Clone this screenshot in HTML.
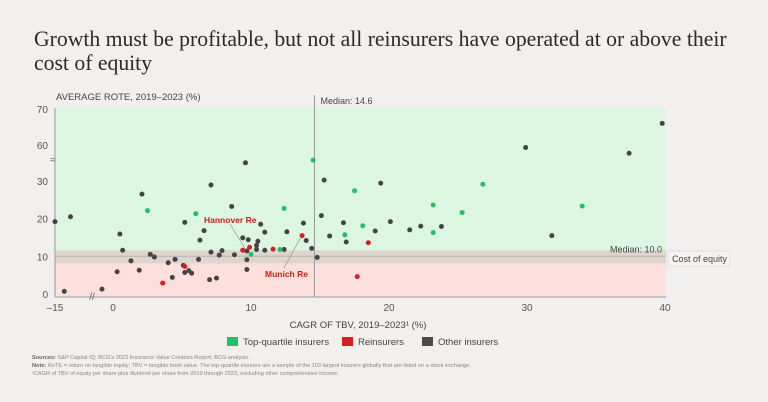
<!DOCTYPE html>
<html><head><meta charset="utf-8"><style>
body{margin:0;background:#f1f0ee;width:768px;height:402px;overflow:hidden;font-family:"Liberation Sans",sans-serif;}
svg{position:absolute;left:0;top:0}
</style></head><body>
<svg width="768" height="402">
<text x="34" y="46" font-family="Liberation Serif" font-size="21.7" fill="#2a2a2a">Growth must be profitable, but not all reinsurers have operated at or above their</text>
<text x="34" y="70" font-family="Liberation Serif" font-size="21.7" fill="#2a2a2a">cost of equity</text>
<g id="plot"></g>
</svg>
<script>
const grayX=[-15,-13.5,-12.5,-0.8,0.3,0.5,0.7,1.3,1.9,2.1,2.7,3.0,4.0,4.3,4.5,5.2,5.1,5.2,5.5,5.7,6.2,6.3,6.6,7.0,7.1,7.1,7.5,7.7,7.9,8.6,8.8,9.4,9.6,9.7,9.7,9.7,9.8,10.4,10.4,10.5,10.7,11.0,11.0,12.4,12.6,13.8,14.0,14.4,14.8,15.1,15.3,15.7,16.7,16.9,19.0,19.4,20.1,21.5,22.3,23.8,29.9,31.8,37.4,39.8];
const grayY=[19.2,0.7,20.5,1.3,5.9,15.9,11.6,8.8,6.3,26.5,10.5,9.8,8.3,4.4,9.2,19.0,7.6,5.7,6.2,5.5,9.2,14.3,16.8,3.8,11.1,28.9,4.2,10.3,11.5,23.2,10.4,14.9,34.8,9.1,11.4,6.5,14.4,11.8,12.9,14.0,18.5,11.6,16.4,11.8,16.5,18.8,14.2,12.1,9.7,20.8,30.2,15.4,18.9,13.8,16.7,29.4,19.2,17.0,18.0,17.9,59.3,15.5,57.7,66];
const greenX=[2.5,6.0,10.0,12.1,12.4,14.5,16.8,17.5,18.1,23.2,23.2,25.3,26.8,34.0];
const greenY=[22.1,21.3,10.5,11.8,22.7,35.5,15.7,27.4,18.1,23.6,16.3,21.6,29.1,23.3];
const redX=[3.6,5.2,9.4,9.9,11.6,13.7,17.7,18.5];
const redY=[2.9,7.3,11.6,12.4,11.9,15.5,4.6,13.6];
const xTicks=[-15,0,10,20,30,40];
const yTicks=[0,10,20,30,60,70];
const medianX=14.6, medianY=10.0, bandLo=8.1, bandHi=11.6;

const NS="http://www.w3.org/2000/svg";
const g=document.getElementById('plot');
function X(v){return v>=-2?113+13.8*v:55+(v+15)*6.2;}
function Y(v){if(v<=36)return 294-3.77*v; if(v>=55)return 145-(v-60)*3.6; return 158.3-(v-36)*0.25;}
function el(t,a,txt){const e=document.createElementNS(NS,t);for(const k in a)e.setAttribute(k,a[k]);if(txt!=null)e.textContent=txt;g.appendChild(e);return e;}
const L=55,R=666,T=108,B=297;
let e;
e=el('rect',{x:L,y:T,width:R-L,height:Y(bandHi)-T,fill:'#dcf6e2'});

e=el('rect',{x:L,y:Y(bandLo),width:R-L,height:B-Y(bandLo),fill:'#fde0dc'});

e=el('rect',{x:L,y:Y(bandHi),width:R-L,height:Y(bandLo)-Y(bandHi),fill:'#ddd6cf'});

e=el('line',{x1:L,x2:R,y1:Y(medianY),y2:Y(medianY),stroke:'#b9b2ab','stroke-width':1});

e=el('line',{x1:X(medianX),x2:X(medianX),y1:95,y2:B,stroke:'#9a9a9a','stroke-width':1});

e=el('text',{x:X(medianX)+6,y:104,'font-size':9,fill:'#444'},'Median: '+medianX.toFixed(1));

e=el('text',{x:R-4,y:Y(medianY)-4,'font-size':9,fill:'#444','text-anchor':'end'},'Median: '+medianY.toFixed(1));

e=el('rect',{x:R+2,y:251,width:62,height:15,fill:'#f4f3f1',stroke:'#e2e0dd'});

e=el('text',{x:R+6,y:262,'font-size':9,fill:'#444'},'Cost of equity');

e=el('line',{x1:L,x2:L,y1:T,y2:B,stroke:'#999'});

e=el('line',{x1:L,x2:R,y1:B,y2:B,stroke:'#999'});

e=el('text',{x:L-2,y:163,'font-size':10,fill:'#666','text-anchor':'middle'},'≈');

e=el('text',{x:92,y:300,'font-size':10,fill:'#666','text-anchor':'middle'},'//');

yTicks.forEach(v=>{const t=el('text',{x:48,y:Y(v)+4,'font-size':10,fill:'#555','text-anchor':'end'},v);
});
xTicks.forEach(v=>{const t=el('text',{x:X(v),y:311,'font-size':10,fill:'#555','text-anchor':'middle'},v<0?'–'+(-v):v);
});
e=el('text',{x:56,y:100,'font-size':9.5,fill:'#444'},'AVERAGE ROTE, 2019–2023 (%)');

e=el('text',{x:358,y:328,'font-size':9.5,fill:'#444','text-anchor':'middle'},'CAGR OF TBV, 2019–2023¹ (%)');

function dots(xs,ys,c,n){xs.forEach((v,i)=>{const d=el('circle',{cx:X(v),cy:Y(ys[i]),r:2.5,fill:c});
});}
dots(grayX,grayY,'#444','other-insurer-point');
dots(greenX,greenY,'#22c065','top-quartile-point');
dots(redX,redY,'#d42020','reinsurer-point');
e=el('line',{x1:230,y1:224,x2:246,y2:250,stroke:'#888','stroke-width':0.6});

e=el('line',{x1:284,y1:268,x2:301,y2:237,stroke:'#888','stroke-width':0.6});

e=el('text',{x:204,y:223,'font-size':8.5,'font-weight':'bold',fill:'#c82020'},'Hannover Re');

e=el('text',{x:265,y:277,'font-size':8.5,'font-weight':'bold',fill:'#c82020'},'Munich Re');

const leg=[['#22c065','Top-quartile insurers',227,'legend-top-quartile'],['#d42020','Reinsurers',342,'legend-reinsurers'],['#4a4a4a','Other insurers',422,'legend-other']];
leg.forEach(l=>{const r=el('rect',{x:l[2],y:337,width:11,height:9,fill:l[0]});

const t=el('text',{x:l[2]+16,y:345,'font-size':9.5,fill:'#444'},l[1]);
});
const notes=[['Sources:',' S&P Capital IQ; BCG’s 2023 Insurance Value Creators Report; BCG analysis.',359],['Note:',' RoTE = return on tangible equity; TBV = tangible book value. The top-quartile insurers are a sample of the 103 largest insurers globally that are listed on a stock exchange.',367],['','¹CAGR of TBV of equity per share plus dividend per share from 2019 through 2023, excluding other comprehensive income.',375]];
notes.forEach((n,i)=>{const t=el('text',{x:32,y:n[2],'font-size':5.6,fill:'#888'});

const b=document.createElementNS(NS,'tspan');b.setAttribute('font-weight','bold');b.setAttribute('fill','#666');b.textContent=n[0];t.appendChild(b);
const s=document.createElementNS(NS,'tspan');s.textContent=n[1];t.appendChild(s);});
</script>
</body></html>
